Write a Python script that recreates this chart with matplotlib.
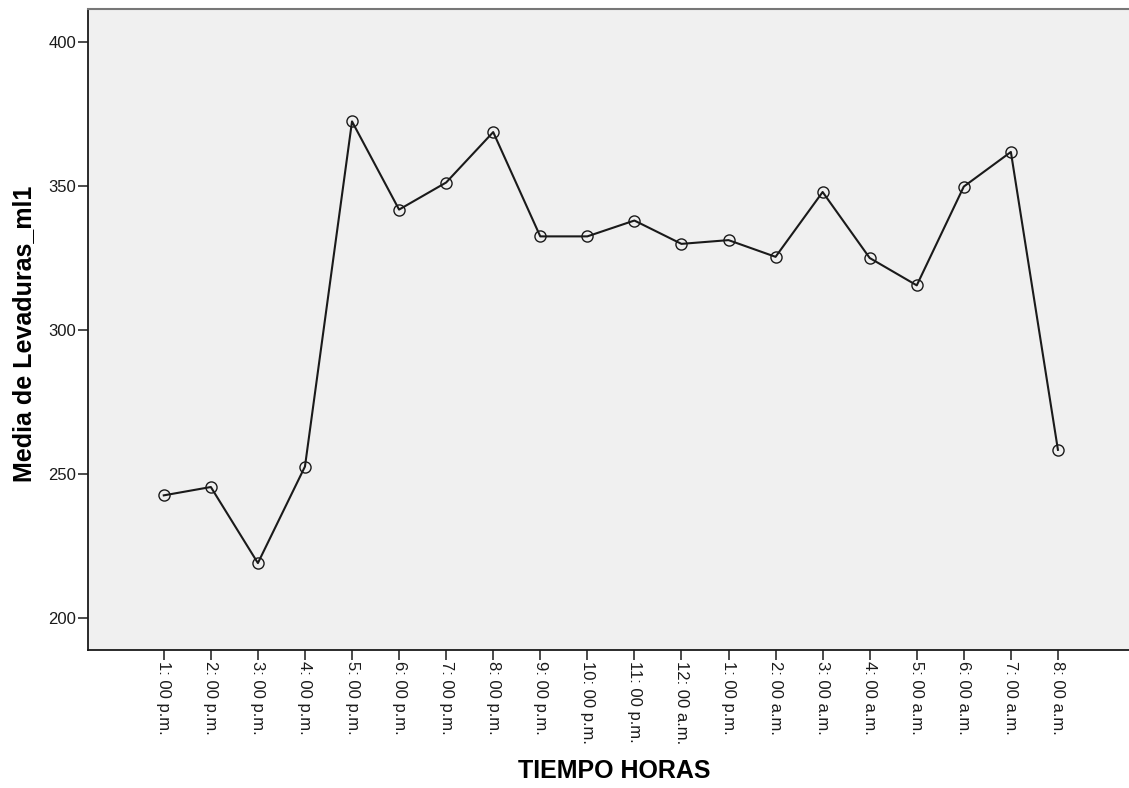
"""Media de Levaduras_ml1 por hora (recreación de gráfico SPSS)."""

import matplotlib

matplotlib.use("Agg")
import matplotlib.pyplot as plt

plt.rcParams["font.family"] = ["Liberation Sans", "DejaVu Sans"]

HORAS = [
    "1: 00 p.m.", "2: 00 p.m.", "3: 00 p.m.", "4: 00 p.m.", "5: 00 p.m.",
    "6: 00 p.m.", "7: 00 p.m.", "8: 00 p.m.", "9: 00 p.m.", "10: 00 p.m.",
    "11: 00 p.m.", "12: 00 a.m.", "1: 00 p.m.", "2: 00 a.m.", "3: 00 a.m.",
    "4: 00 a.m.", "5: 00 a.m.", "6: 00 a.m.", "7: 00 a.m.", "8: 00 a.m.",
]
MEDIA_LEVADURAS = [
    242.5, 245.4, 219.0, 252.5, 372.3, 341.7, 351.1, 368.6, 332.4, 332.4,
    337.9, 329.8, 331.1, 325.3, 347.8, 324.9, 315.4, 349.7, 361.7, 258.3,
]
Y_TICKS = [200, 250, 300, 350, 400]

W, H = 1129, 788
fig = plt.figure(figsize=(W / 100, H / 100), dpi=100)
ax = fig.add_axes([88 / W, 1 - 649.5 / H, (W - 88) / W, (649.5 - 8.5) / H])
ax.set_facecolor("#f0f0f0")

x = list(range(len(HORAS)))
ax.plot(x, MEDIA_LEVADURAS, color="#1a1a1a", lw=1.5, marker="o", ms=8,
        mfc="none", mec="#1a1a1a", mew=1.0)

ax.set_xlim(-1.61, 20.51)
ax.set_ylim(189.0, 411.5)
ax.set_yticks(Y_TICKS)
ax.set_xticks(x)
ax.set_xticklabels(HORAS, rotation=270, ha="center", va="top")

ax.tick_params(axis="both", direction="out", length=7.5, width=1.1,
               color="#1a1a1a", labelsize=12, pad=1, labelcolor="#1a1a1a")
ax.spines["left"].set_color("#1a1a1a")
ax.spines["bottom"].set_color("#1a1a1a")
ax.spines["left"].set_linewidth(1.3)
ax.spines["bottom"].set_linewidth(1.3)
ax.spines["top"].set_color("#777777")
ax.spines["top"].set_linewidth(1.5)
ax.spines["right"].set_visible(False)

fig.text(24 / W, 1 - 334 / H, "Media de Levaduras_ml1", rotation=90,
         ha="center", va="center", fontsize=18, fontweight="bold")
fig.text(614 / W, 1 - 771 / H, "TIEMPO HORAS", ha="center", va="center",
         fontsize=18, fontweight="bold")

fig.savefig("out.png", dpi=100, facecolor="white")
